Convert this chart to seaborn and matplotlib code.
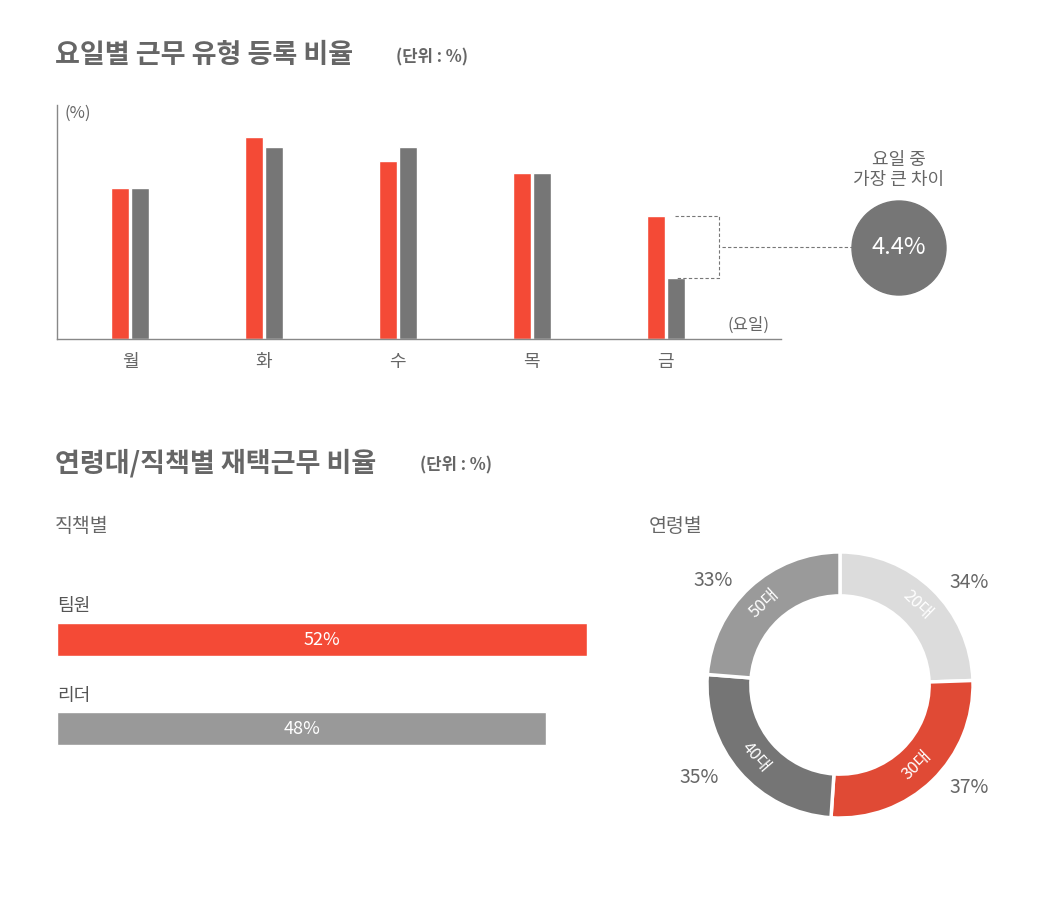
import matplotlib
matplotlib.use('Agg')
import matplotlib.pyplot as plt
import seaborn as sns
import pandas as pd
import numpy as np
from matplotlib.patches import Circle

sns.set_theme(style='white')
plt.rcParams['font.family'] = ['Noto Sans CJK KR', 'DejaVu Sans']

RED = '#f44a36'
DGRAY = '#767676'
TXT = '#666666'

# data
days = ['월', '화', '수', '목', '금']
type_a = [10.7, 14.3, 12.6, 11.8, 8.7]
type_b = [10.7, 13.6, 13.6, 11.8, 4.3]
max_gap = '4.4%'

roles = ['팀원', '리더']
role_vals = [52, 48]
role_colors = [RED, '#999999']

ages = ['20대', '30대', '40대', '50대']
age_vals = [34, 37, 35, 33]
age_colors = ['#dcdcdc', '#e04a35', '#757575', '#9a9a9a']

W, H = 1060, 900
fig = plt.figure(figsize=(W / 100, H / 100), dpi=100)


def box(l, t, r, b):
    return [l / W, 1 - b / H, (r - l) / W, (b - t) / H]


# overlay in pixel coords for text
ov = fig.add_axes([0, 0, 1, 1])
ov.set_xlim(0, W)
ov.set_ylim(H, 0)
ov.axis('off')

t1 = ov.text(55, 55, '요일별 근무 유형 등록 비율', fontsize=19.5, fontweight='bold', color=TXT, va='center')
ov.text(396, 57, '(단위 : %)', fontsize=12, fontweight='bold', color=TXT, va='center')
ov.text(55, 463, '연령대/직책별 재택근무 비율', fontsize=19.5, fontweight='bold', color=TXT, va='center')
ov.text(420, 465, '(단위 : %)', fontsize=12, fontweight='bold', color=TXT, va='center')

# top bar chart
ax = fig.add_axes(box(57, 105, 781, 339))
df = pd.DataFrame({'day': days * 2, 'v': type_a + type_b,
                   'type': ['a'] * 5 + ['b'] * 5})
sns.barplot(data=df, x='day', y='v', hue='type', palette=[RED, DGRAY],
            width=0.3, gap=0.1, saturation=1, legend=False, ax=ax)
ax.set_xlim(-0.545, 4.86)
ax.set_ylim(0, 16.6)
ax.set_xlabel('')
ax.set_ylabel('')
ax.set_yticks([])
ax.tick_params(axis='x', length=0, labelsize=13, labelcolor=TXT, pad=10)
for s in ['top', 'right']:
    ax.spines[s].set_visible(False)
for s in ['left', 'bottom']:
    ax.spines[s].set_color('#888888')
    ax.spines[s].set_linewidth(1)
ax.text(0.01, 1.0, '(%)', transform=ax.transAxes, fontsize=12, color=TXT, va='top')
ax.text(4.62, 0.4, '(요일)', fontsize=12, color=TXT, ha='center', va='bottom')

# bracket for biggest gap
i = days.index('금')
ya, yb = type_a[i], type_b[i]
kw = dict(color='#777777', lw=0.8, ls=(0, (3, 2)), clip_on=False)
ax.plot([i + 0.07, i + 0.4, i + 0.4, i + 0.07], [ya, ya, yb, yb], **kw)
ax.plot([i + 0.42, i + 1.39], [(ya + yb) / 2] * 2, **kw)
ov.add_patch(Circle((899, 248), 47, color=DGRAY))
ov.text(899, 248, max_gap, color='white', fontsize=17, fontweight='medium',
        ha='center', va='center')
ov.text(899, 170, '요일 중\n가장 큰 차이', color=TXT, fontsize=13, ha='center',
        va='center', linespacing=1.2)

# role bars
ov.text(55, 527, '직책별', fontsize=14, color=TXT, va='center')
axr = fig.add_axes(box(57, 590, 587, 750))
rdf = pd.DataFrame({'role': roles, 'v': role_vals})
sns.barplot(data=rdf, y='role', x='v', hue='role', palette=role_colors,
            width=0.37, saturation=1, legend=False, ax=axr)
axr.set_xlim(0, 52)
axr.set_ylim(1.24, -0.556)
axr.axis('off')
for k, (r, v) in enumerate(zip(roles, role_vals)):
    axr.text(v / 2, k, f'{v}%', color='white', fontsize=13, ha='center', va='center')
    axr.text(0, k - 0.27, r, color='#555555', fontsize=13, ha='left', va='bottom')

# donut
ov.text(649, 527, '연령별', fontsize=14, color=TXT, va='center')
axd = fig.add_axes(box(695, 540, 985, 830))
wedges, _ = axd.pie(age_vals, colors=age_colors, startangle=90, counterclock=False,
                    radius=1, wedgeprops=dict(width=0.33, edgecolor='white', linewidth=2.5))
axd.set_xlim(-1.09, 1.09)
axd.set_ylim(-1.09, 1.09)
axd.set_aspect('equal')
for w, lab, v in zip(wedges, ages, age_vals):
    mid = (w.theta1 + w.theta2) / 2
    rad = np.deg2rad(mid)
    rot = mid - 90 if np.sin(rad) > 0 else mid + 90
    axd.text(0.835 * np.cos(rad), 0.835 * np.sin(rad), lab, color='white', fontsize=12,
             ha='center', va='center', rotation=rot, rotation_mode='anchor')
    axd.text(1.4 * np.cos(rad), 1.07 * np.sin(rad), f'{v}%', color=TXT, fontsize=14,
             ha='center', va='center', clip_on=False)

fig.savefig('out.png', dpi=100, facecolor='white')
